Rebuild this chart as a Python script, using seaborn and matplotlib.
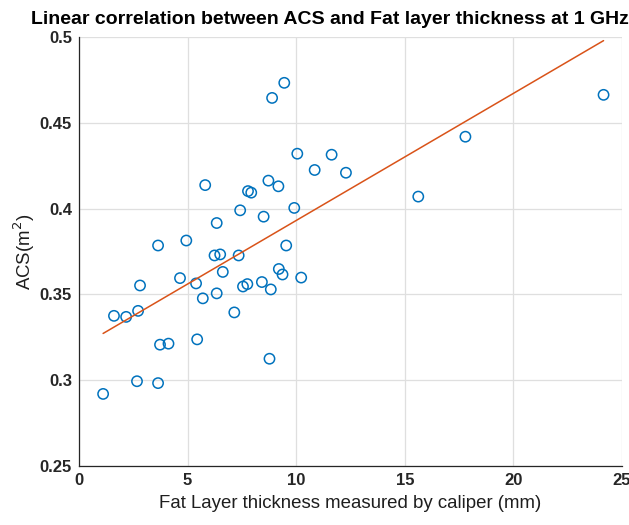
import numpy as np
import pandas as pd
import matplotlib
matplotlib.use("Agg")
import matplotlib.pyplot as plt
import seaborn as sns

fat_mm = [1.11, 1.61, 2.17, 2.72, 2.81, 2.67, 3.64, 3.73, 4.12, 3.64,
          4.65, 4.94, 5.44, 5.39, 5.70, 5.81, 6.24, 6.34, 6.34, 6.50,
          6.62, 7.15, 7.35, 7.42, 7.55, 7.75, 7.78, 7.93, 8.42, 8.50,
          8.72, 8.83, 8.77, 8.89, 9.20, 9.18, 9.37, 9.45, 9.54, 9.91,
          10.05, 10.23, 10.85, 11.63, 12.29, 15.62, 17.79, 24.15]
acs_m2 = [0.2920, 0.3375, 0.3369, 0.3404, 0.3552, 0.2994, 0.2983, 0.3207, 0.3213, 0.3785,
          0.3595, 0.3814, 0.3238, 0.3564, 0.3477, 0.4137, 0.3727, 0.3506, 0.3916, 0.3733,
          0.3631, 0.3395, 0.3727, 0.3990, 0.3546, 0.3560, 0.4102, 0.4093, 0.3572, 0.3953,
          0.4163, 0.3529, 0.3125, 0.4645, 0.3648, 0.4130, 0.3616, 0.4733, 0.3785, 0.4004,
          0.4320, 0.3598, 0.4225, 0.4314, 0.4209, 0.4070, 0.4419, 0.4663]

title = "Linear correlation between ACS and Fat layer thickness at 1 GHz"
xlabel = "Fat Layer thickness measured by caliper (mm)"
ylabel = "ACS(m$^2$)"
xticks = [0, 5, 10, 15, 20, 25]
yticks = [0.25, 0.30, 0.35, 0.40, 0.45, 0.50]
ytick_labels = ["0.25", "0.3", "0.35", "0.4", "0.45", "0.5"]

df = pd.DataFrame({"fat": fat_mm, "acs": acs_m2})

sns.set_style("white")
plt.rcParams["font.family"] = ["Liberation Sans", "DejaVu Sans"]

fig = plt.figure(figsize=(6.29, 5.25), dpi=100)
ax = fig.add_axes([0.1256, 0.1124, 0.8633, 0.8171])

sns.scatterplot(data=df, x="fat", y="acs", ax=ax, marker="o", s=55,
                facecolor="none", edgecolor="#0072BD", linewidth=1.1, zorder=3)

coef = np.polyfit(df["fat"], df["acs"], 1)
xs = np.array([df["fat"].min(), df["fat"].max()])
sns.lineplot(x=xs, y=np.polyval(coef, xs), ax=ax, color="#D95319", linewidth=1.1, zorder=4)

ax.set_xlim(0, 25)
ax.set_ylim(0.25, 0.5)
ax.set_xticks(xticks)
ax.set_yticks(yticks)
ax.set_yticklabels(ytick_labels)
ax.grid(True, color="#dfdfdf", linewidth=0.9)
ax.set_axisbelow(True)
for s in ["top", "right"]:
    ax.spines[s].set_visible(False)
for s in ["left", "bottom"]:
    ax.spines[s].set_color("#262626")
    ax.spines[s].set_linewidth(0.9)
ax.tick_params(direction="in", length=4, width=0.8, colors="#262626",
               labelsize=12, pad=5)
for lab in ax.get_xticklabels() + ax.get_yticklabels():
    lab.set_fontweight("bold")
    lab.set_color("#262626")

ax.set_xlabel(xlabel, fontsize=13.4, color="#1e1e1e", labelpad=5)
ax.set_ylabel(ylabel, fontsize=13.4, color="#1e1e1e", labelpad=2)
fig.text(0.524, 0.963, title, ha="center", va="center", fontsize=14,
         fontweight="bold", color="black")

fig.savefig("out.png", dpi=100)
